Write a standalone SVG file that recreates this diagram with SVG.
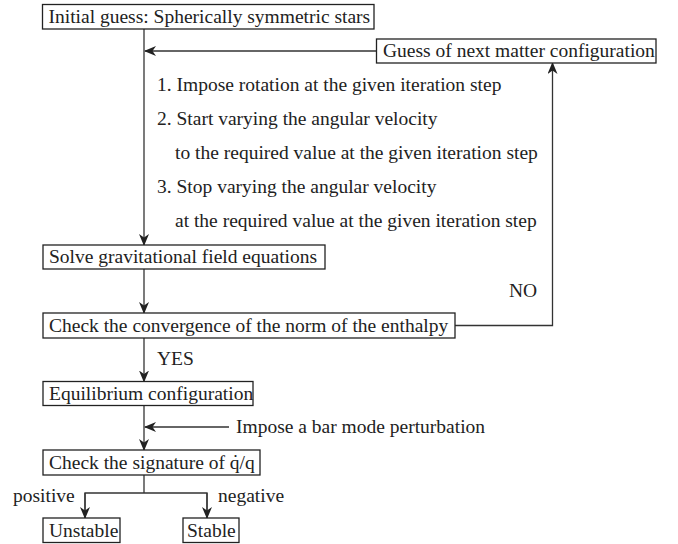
<svg xmlns="http://www.w3.org/2000/svg" width="678" height="544" viewBox="0 0 678 544">
<style>
.box{fill:#fff;stroke:#222;stroke-width:1.3}
.t{font-family:"Liberation Serif","Times New Roman",serif;font-size:19.5px;fill:#222}
.c{fill:none;stroke:#333;stroke-width:1.3}
</style>
<defs>
<marker id="ah" viewBox="0 0 12 10" refX="11" refY="5" markerWidth="12" markerHeight="10" markerUnits="userSpaceOnUse" orient="auto">
<path d="M0,0 L12,5 L0,10 L3.5,5 z" fill="#222"/>
</marker>
</defs>
<rect width="678" height="544" fill="#fff"/>
<g id="connectors">
<path class="c" d="M144,29 V245" marker-end="url(#ah)"/>
<path class="c" d="M376,51 H145" marker-end="url(#ah)"/>
<path class="c" d="M144,269 V313" marker-end="url(#ah)"/>
<path class="c" d="M455,325.5 H552.5 V63" marker-end="url(#ah)"/>
<path class="c" d="M144,338 V381.5" marker-end="url(#ah)"/>
<path class="c" d="M144,405.5 V450" marker-end="url(#ah)"/>
<path class="c" d="M229,427 H145" marker-end="url(#ah)"/>
<path class="c" d="M144,475 V493"/>
<path class="c" d="M85,518 V493 H207 V518"/>
<path class="c" d="M85,493 V518" marker-end="url(#ah)"/>
<path class="c" d="M207,493 V518" marker-end="url(#ah)"/>
<text class="t" x="157" y="91">1. Impose rotation at the given iteration step</text>
<text class="t" x="157" y="125">2. Start varying the angular velocity</text>
<text class="t" x="175" y="159">to the required value at the given iteration step</text>
<text class="t" x="157" y="193">3. Stop varying the angular velocity</text>
<text class="t" x="175" y="227">at the required value at the given iteration step</text>
<text class="t" x="509" y="297">NO</text>
<text class="t" x="157" y="365">YES</text>
<text class="t" x="236" y="433">Impose a bar mode perturbation</text>
<text class="t" x="13" y="502">positive</text>
<text class="t" x="218" y="502">negative</text>
</g>
<g id="initial">
<rect class="box" x="42.5" y="4.5" width="331.5" height="24.5"/>
<text class="t" x="48.5" y="23">Initial guess: Spherically symmetric stars</text>
</g>
<g id="guess">
<rect class="box" x="376.5" y="39" width="279.5" height="24"/>
<text class="t" x="383" y="57">Guess of next matter configuration</text>
</g>
<g id="solve">
<rect class="box" x="43" y="245" width="282" height="24"/>
<text class="t" x="49" y="263">Solve gravitational field equations</text>
</g>
<g id="check-convergence">
<rect class="box" x="43" y="313" width="412" height="25"/>
<text class="t" x="49" y="331.5">Check the convergence of the norm of the enthalpy</text>
</g>
<g id="equilibrium">
<rect class="box" x="43" y="381.5" width="210" height="24"/>
<text class="t" x="49" y="399.5">Equilibrium configuration</text>
</g>
<g id="check-signature">
<rect class="box" x="43" y="450" width="217" height="25"/>
<text class="t" x="49" y="468.5">Check the signature of q̇/q</text>
</g>
<g id="unstable">
<rect class="box" x="43" y="518" width="77" height="24.5"/>
<text class="t" x="49" y="536.5">Unstable</text>
</g>
<g id="stable">
<rect class="box" x="183" y="518" width="56" height="24.5"/>
<text class="t" x="187" y="536.5">Stable</text>
</g>
</svg>
